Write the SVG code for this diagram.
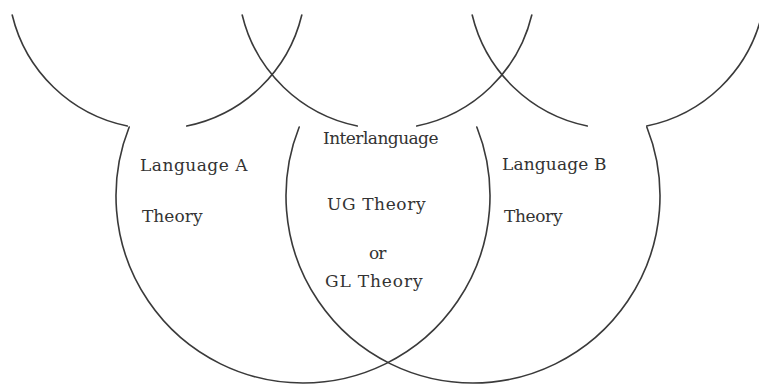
<svg xmlns="http://www.w3.org/2000/svg" width="759" height="386" viewBox="0 0 759 386">
<style>
.arc{fill:none;stroke:#3a3a3a;stroke-width:1.6;stroke-linecap:round}
.t{font-family:"DejaVu Serif","Liberation Serif",serif;font-size:17px;fill:#333;letter-spacing:-0.5px}
</style>
<rect width="759" height="386" fill="#fff"/>
<g id="upper-circles">
<path class="arc" d="M12.2,15 A149,149 0 0 0 127.3,126"/>
<path class="arc" d="M186.7,126 A149,149 0 0 0 301.8,15"/>
<path class="arc" d="M242.2,15 A149,149 0 0 0 357.3,126"/>
<path class="arc" d="M416.7,126 A149,149 0 0 0 531.8,15"/>
<path class="arc" d="M472.2,15 A149,149 0 0 0 587.3,126"/>
<path class="arc" d="M646.7,126 A149,149 0 0 0 761.8,15"/>
</g>
<g id="language-a">
<path class="arc" d="M129.2,127 A187,187 0 1 0 476.8,127"/>
<text class="t" x="140" y="171" textLength="107">Language A</text>
<text class="t" x="142" y="222" textLength="60">Theory</text>
</g>
<g id="language-b">
<path class="arc" d="M299.2,127 A187,187 0 1 0 646.8,127"/>
<text class="t" x="502" y="170" textLength="104">Language B</text>
<text class="t" x="504" y="222" textLength="58">Theory</text>
</g>
<g id="interlanguage">
<text class="t" x="323" y="144" textLength="115">Interlanguage</text>
<text class="t" x="327" y="210" textLength="98">UG Theory</text>
<text class="t" x="369" y="259" textLength="17">or</text>
<text class="t" x="325" y="287" textLength="97">GL Theory</text>
</g>
<g id="connectors"/>
</svg>
